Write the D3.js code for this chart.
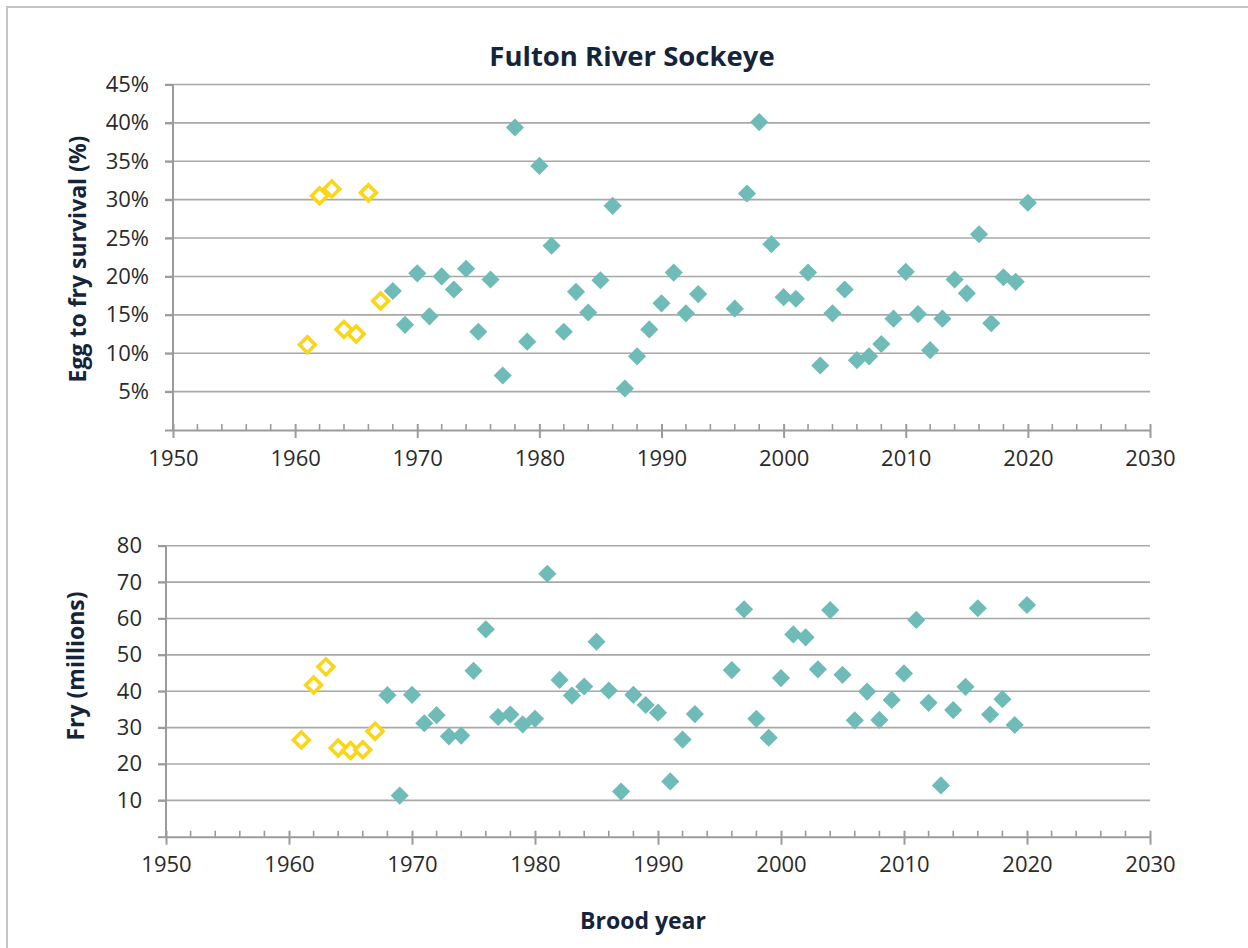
<!DOCTYPE html>
<html>
<head>
<meta charset="utf-8">
<script src="https://cdn.jsdelivr.net/npm/d3@7"></script>
<style>
  body { margin: 0; background: #fff; }
  svg { display: block; font-family: "Open Sans", Lato, sans-serif; }
</style>
</head>
<body>
<div class="chart"></div>
<script>
// hatchery years (open markers) and later years (filled markers)
const earlyYears = [1961, 1962, 1963, 1964, 1965, 1966, 1967];
const earlySurvival = [11.1, 30.5, 31.4, 13.1, 12.5, 30.9, 16.8];
const earlyFry = [26.6, 41.7, 46.7, 24.4, 23.7, 23.9, 29.0];

const laterYears = [1968, 1969, 1970, 1971, 1972, 1973, 1974, 1975, 1976, 1977,
    1978, 1979, 1980, 1981, 1982, 1983, 1984, 1985, 1986, 1987, 1988, 1989,
    1990, 1991, 1992, 1993, 1996, 1997, 1998, 1999, 2000, 2001, 2002, 2003,
    2004, 2005, 2006, 2007, 2008, 2009, 2010, 2011, 2012, 2013, 2014, 2015,
    2016, 2017, 2018, 2019, 2020];
const laterSurvival = [18.1, 13.7, 20.4, 14.8, 20.0, 18.3, 21.0, 12.8, 19.6, 7.1,
    39.4, 11.5, 34.4, 24.0, 12.8, 18.0, 15.3, 19.5, 29.2, 5.4, 9.6, 13.1,
    16.5, 20.5, 15.2, 17.7, 15.8, 30.8, 40.1, 24.2, 17.3, 17.1, 20.5, 8.4,
    15.2, 18.3, 9.1, 9.6, 11.2, 14.5, 20.6, 15.1, 10.4, 14.5, 19.6, 17.8,
    25.5, 13.9, 19.9, 19.3, 29.6];
const laterFry = [38.9, 11.3, 39.0, 31.2, 33.4, 27.6, 27.8, 45.6, 57.0, 32.9,
    33.6, 30.9, 32.4, 72.3, 43.1, 38.8, 41.3, 53.6, 40.2, 12.4, 39.0, 36.2,
    34.1, 15.2, 26.7, 33.7, 45.8, 62.5, 32.4, 27.2, 43.6, 55.6, 54.8, 46.0,
    62.3, 44.5, 32.0, 39.9, 32.1, 37.6, 44.9, 59.6, 36.8, 14.1, 34.8, 41.2,
    62.8, 33.6, 37.8, 30.7, 63.7];

const yearTicks = [1950, 1960, 1970, 1980, 1990, 2000, 2010, 2020, 2030];
const minorYearTicks = d3.range(1952, 2030, 2).filter(y => y % 10 !== 0);
const survivalTicks = [5, 10, 15, 20, 25, 30, 35, 40, 45];
const fryTicks = [10, 20, 30, 40, 50, 60, 70, 80];

const W = 1248, H = 948;
const teal = "#6fbbb7";
const yellow = "#f9d51c";
const gridColor = "#a8a8a8";
const axisColor = "#9b9b9b";
const textColor = "#2a2a2a";
const titleColor = "#14243a";
const tickFont = 22;
const labelFont = 23;

const svg = d3.select(".chart").append("svg")
    .attr("width", W)
    .attr("height", H);

// outer frame (left and top edges only visible)
svg.append("path")
    .attr("d", "M7," + H + "V7H" + W)
    .attr("fill", "none")
    .attr("stroke", "#c3c3ca")
    .attr("stroke-width", 2);

svg.append("text")
    .attr("x", 632)
    .attr("y", 66)
    .attr("text-anchor", "middle")
    .attr("font-size", 27.5)
    .attr("font-weight", 700)
    .attr("fill", titleColor)
    .text("Fulton River Sockeye");

function drawPanel(opts) {
    const x = d3.scaleLinear().domain([1950, 2030]).range([opts.left, 1150]);
    const y = d3.scaleLinear().domain([0, opts.max]).range([opts.bottom, opts.top]);
    const g = svg.append("g");

    // gridlines
    g.append("g")
        .selectAll("line")
        .data(opts.ticks)
        .enter()
        .append("line")
        .attr("x1", opts.left - 8)
        .attr("x2", 1150)
        .attr("y1", d => y(d))
        .attr("y2", d => y(d))
        .attr("stroke", gridColor)
        .attr("stroke-width", 1.6);

    // y axis
    const yAxis = d3.axisLeft(y)
        .tickValues([0].concat(opts.ticks))
        .tickSize(8)
        .tickPadding(16)
        .tickFormat(d => d === 0 ? "" : d + opts.suffix);
    const ya = g.append("g")
        .attr("transform", "translate(" + opts.left + ",0)")
        .call(yAxis);
    ya.select(".domain").remove();
    ya.selectAll(".tick line").attr("stroke", axisColor).attr("stroke-width", 2);
    ya.selectAll(".tick text")
        .attr("font-size", tickFont)
        .attr("font-family", "'Open Sans', sans-serif")
        .attr("fill", textColor);

    g.append("line")
        .attr("x1", opts.left).attr("x2", opts.left)
        .attr("y1", opts.top).attr("y2", opts.bottom)
        .attr("stroke", axisColor)
        .attr("stroke-width", 2);

    // x axis
    const xa = g.append("g")
        .attr("transform", "translate(0," + opts.bottom + ")")
        .call(d3.axisBottom(x)
            .tickValues(yearTicks)
            .tickSizeInner(8)
            .tickSizeOuter(0)
            .tickPadding(12)
            .tickFormat(d3.format("d")));
    xa.select(".domain").attr("stroke", axisColor).attr("stroke-width", 2);
    xa.selectAll(".tick line")
        .attr("y1", -6)
        .attr("stroke", axisColor)
        .attr("stroke-width", 2);
    xa.selectAll(".tick text")
        .attr("font-size", tickFont)
        .attr("font-family", "'Open Sans', sans-serif")
        .attr("fill", textColor);

    xa.selectAll(".minor")
        .data(minorYearTicks)
        .enter()
        .append("line")
        .attr("class", "minor")
        .attr("x1", d => x(d)).attr("x2", d => x(d))
        .attr("y1", -6).attr("y2", 0)
        .attr("stroke", axisColor)
        .attr("stroke-width", 1.6);

    // axis title
    g.append("text")
        .attr("transform", "translate(" + opts.labelX + "," + opts.labelY + ") rotate(-90)")
        .attr("text-anchor", "middle")
        .attr("dominant-baseline", "central")
        .attr("font-size", labelFont)
        .attr("font-weight", 700)
        .attr("fill", titleColor)
        .text(opts.label);

    const filled = d3.symbol(d3.symbolSquare, 165);
    const hollow = d3.symbol(d3.symbolSquare, 125);

    g.append("g")
        .selectAll("path")
        .data(laterYears.map((yr, i) => [yr, opts.later[i]]))
        .enter()
        .append("path")
        .attr("d", filled)
        .attr("transform", d => "translate(" + x(d[0]) + "," + y(d[1]) + ") rotate(45)")
        .attr("fill", teal);

    g.append("g")
        .selectAll("path")
        .data(earlyYears.map((yr, i) => [yr, opts.early[i]]))
        .enter()
        .append("path")
        .attr("d", hollow)
        .attr("transform", d => "translate(" + x(d[0]) + "," + y(d[1]) + ") rotate(45)")
        .attr("fill", "white")
        .attr("stroke", yellow)
        .attr("stroke-width", 3.6);
}

drawPanel({
    left: 173, top: 84.5, bottom: 430, max: 45,
    ticks: survivalTicks, suffix: "%",
    early: earlySurvival, later: laterSurvival,
    label: "Egg to fry survival (%)", labelX: 77, labelY: 259
});

drawPanel({
    left: 166, top: 545.7, bottom: 836.7, max: 80,
    ticks: fryTicks, suffix: "",
    early: earlyFry, later: laterFry,
    label: "Fry (millions)", labelX: 75, labelY: 666
});

svg.append("text")
    .attr("x", 643)
    .attr("y", 929)
    .attr("text-anchor", "middle")
    .attr("font-size", labelFont)
    .attr("font-weight", 700)
    .attr("fill", titleColor)
    .text("Brood year");
</script>
</body>
</html>
